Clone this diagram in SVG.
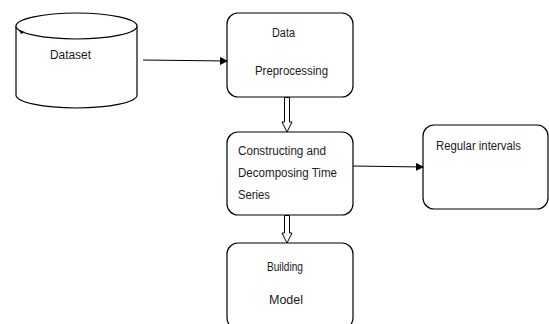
<svg xmlns="http://www.w3.org/2000/svg" width="549" height="324" viewBox="0 0 549 324">
<defs>
<style>
.box{fill:#fff;stroke:#000;stroke-width:1.2}
.t{font-family:"Liberation Sans",Arial,sans-serif;font-size:12.5px;fill:#1a1a1a}
.line{stroke:#000;stroke-width:1.2;fill:none}
.hollow{fill:#fff;stroke:#000;stroke-width:1}
</style>
<marker id="ah" markerWidth="8" markerHeight="8" refX="7" refY="4" orient="auto" markerUnits="userSpaceOnUse">
<path d="M0,0 L8,4 L0,8 Z" fill="#000"/>
</marker>
</defs>
<rect width="549" height="324" fill="#fff"/>
<g id="dataset">
<path class="box" d="M16,26 L16,95 A60.5,13 0 0 0 137,95 L137,26"/>
<ellipse class="box" cx="76.5" cy="26" rx="60.5" ry="13"/>
<path d="M19,30 L25,32 L21,34 Z" fill="#000"/>
<text class="t" x="50" y="59" textLength="41" lengthAdjust="spacingAndGlyphs">Dataset</text>
</g>
<g id="preprocessing">
<rect class="box" x="227" y="13" width="126" height="84" rx="11"/>
<text class="t" x="272" y="37" textLength="23" lengthAdjust="spacingAndGlyphs">Data</text>
<text class="t" x="255" y="75" textLength="73" lengthAdjust="spacingAndGlyphs">Preprocessing</text>
</g>
<g id="constructing">
<rect class="box" x="227" y="132" width="126" height="83" rx="11"/>
<text class="t" x="238" y="155" textLength="88" lengthAdjust="spacingAndGlyphs">Constructing and</text>
<text class="t" x="238" y="177" textLength="99" lengthAdjust="spacingAndGlyphs">Decomposing Time</text>
<text class="t" x="238" y="199" textLength="32" lengthAdjust="spacingAndGlyphs">Series</text>
</g>
<g id="regular">
<rect class="box" x="423" y="125" width="125" height="84" rx="11"/>
<text class="t" x="436" y="150" textLength="85" lengthAdjust="spacingAndGlyphs">Regular intervals</text>
</g>
<g id="building">
<rect class="box" x="227" y="243" width="126" height="86" rx="11"/>
<text class="t" x="267" y="271" textLength="36" lengthAdjust="spacingAndGlyphs">Building</text>
<text class="t" x="269" y="304" textLength="34" lengthAdjust="spacingAndGlyphs">Model</text>
</g>
<g id="connectors">
<line class="line" x1="143" y1="60" x2="227" y2="61" marker-end="url(#ah)"/>
<line class="line" x1="353" y1="166" x2="423" y2="167" marker-end="url(#ah)"/>
<path class="hollow" d="M284.5,97.5 L289.5,97.5 L289.5,122 L292,122 L287,132 L282,122 L284.5,122 Z"/>
<path class="hollow" d="M284.5,215.5 L289.5,215.5 L289.5,233 L292,233 L287,243 L282,233 L284.5,233 Z"/>
</g>
</svg>
